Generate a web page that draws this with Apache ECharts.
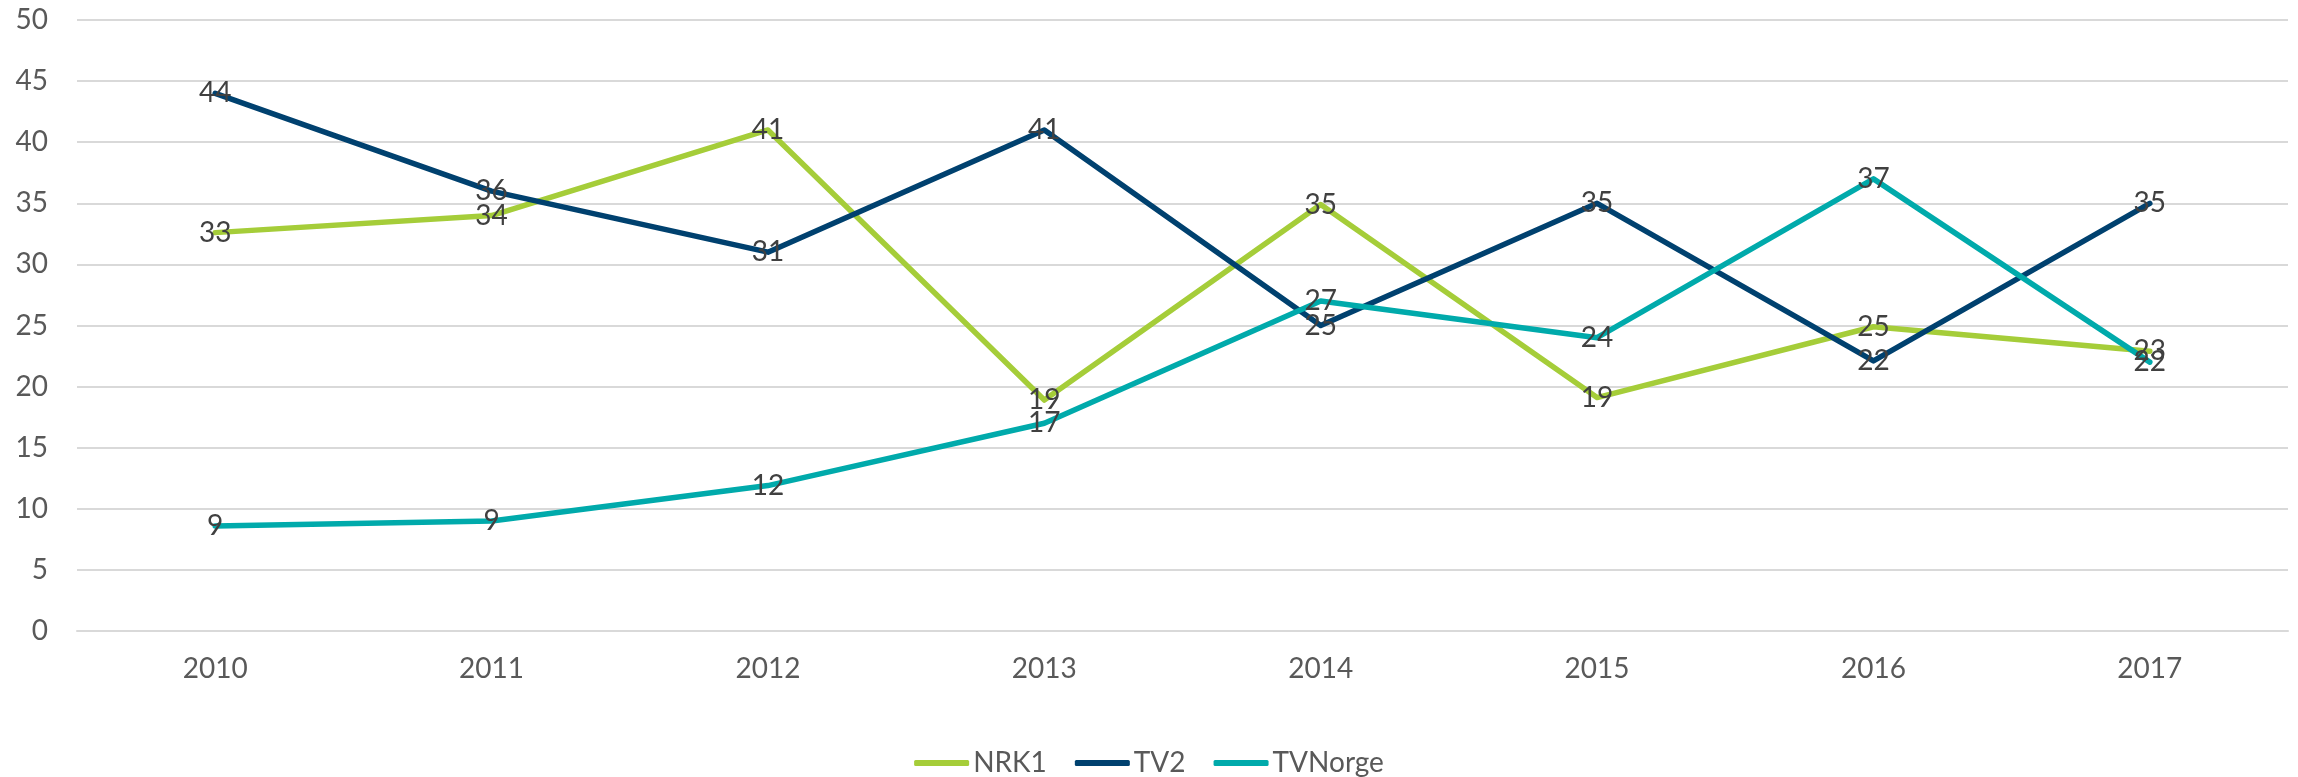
<!DOCTYPE html>
<html>
<head>
<meta charset="utf-8">
<title>NRK1 / TV2 / TVNorge 2010-2017</title>
<script src="https://cdn.jsdelivr.net/npm/echarts@6/dist/echarts.min.js"></script>
<style>
    html, body { margin: 0; padding: 0; background: #fff; }
    #chart { width: 2298px; height: 777px; }
</style>
</head>
<body>
<div id="chart"></div>
<script>
// data
const years = ['2010', '2011', '2012', '2013', '2014', '2015', '2016', '2017'];
const nrk1 = [32.6, 34.0, 41.0, 18.9, 34.9, 19.1, 24.9, 22.9];
const tv2 = [44.0, 36.0, 31.0, 41.0, 25.0, 35.0, 22.1, 35.0];
const tvnorge = [8.6, 9.0, 11.9, 17.0, 27.0, 24.0, 37.0, 22.0];
const yTicks = { min: 0, max: 50, interval: 5 };

const seriesNames = ['NRK1', 'TV2', 'TVNorge'];
const seriesColors = ['#a5cd39', '#00416f', '#00aaab'];
const seriesData = [nrk1, tv2, tvnorge];

const font = 'Lato';

let myChart = echarts.init(document.getElementById('chart'));

let option = {
    animation: false,
    textStyle: { fontFamily: font },
    grid: {
        left: 77,
        right: 10,
        top: 20,
        bottom: 146,
        containLabel: false
    },
    legend: {
        top: 744,
        left: 'center',
        icon: 'roundRect',
        itemWidth: 55,
        itemHeight: 6,
        itemGap: 28,
        itemStyle: { opacity: 1 },
        data: seriesNames,
        textStyle: {
            fontFamily: font,
            fontSize: 28,
            color: '#595959',
            padding: [0, 0, 0, -1]
        }
    },
    xAxis: {
        type: 'category',
        data: years,
        boundaryGap: true,
        axisLine: { show: true, lineStyle: { color: '#d9d9d9', width: 2 } },
        axisTick: { show: false },
        axisLabel: {
            margin: 24,
            fontFamily: font,
            fontSize: 28,
            color: '#595959'
        }
    },
    yAxis: {
        type: 'value',
        min: yTicks.min,
        max: yTicks.max,
        interval: yTicks.interval,
        axisLine: { show: false },
        axisTick: { show: false },
        // gridlines
        splitLine: { show: true, lineStyle: { color: '#d9d9d9', width: 2 } },
        axisLabel: {
            margin: 29,
            fontFamily: font,
            fontSize: 28,
            color: '#595959'
        }
    },
    series: seriesNames.map(function (name, i) {
        return {
            name: name,
            type: 'line',
            data: seriesData[i],
            // invisible symbol so the labels still draw
            symbol: 'circle',
            symbolSize: 1,
            showSymbol: true,
            smooth: false,
            color: seriesColors[i],
            itemStyle: { color: seriesColors[i], opacity: 0 },
            lineStyle: { width: 5.5, color: seriesColors[i], cap: 'round', join: 'round' },
            emphasis: { disabled: true },
            label: {
                show: true,
                position: 'inside',
                fontFamily: font,
                fontSize: 28,
                color: '#404040',
                opacity: 1,
                formatter: function (p) { return Math.round(p.value); }
            }
        };
    })
};
myChart.setOption(option);
</script>
</body>
</html>
